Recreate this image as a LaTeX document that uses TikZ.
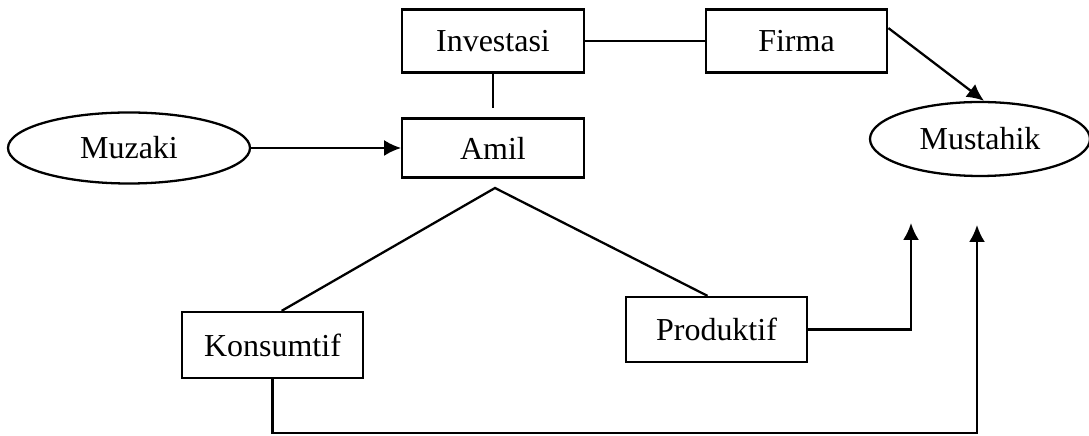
\documentclass[tikz,border=0pt]{standalone}
\usepackage{fontspec}
\setmainfont{Liberation Serif}
\usetikzlibrary{arrows.meta,shapes.geometric}
\begin{document}
\begin{tikzpicture}[>={Latex[length=0.34cm,width=0.32cm]}, line width=1.3pt,
  box/.style={draw, rectangle, minimum width=3.63cm, minimum height=1.26cm, inner sep=0pt},
  oval/.style={draw, ellipse, inner sep=0pt},
  font=\fontsize{18.2}{22}\selectfont]
\useasboundingbox (0,0) rectangle (21.78,8.72);

\node[box] (inv) at (9.86,7.90) {Investasi};
\node[box] (firma) at (15.93,7.90) {Firma};
\node[box, minimum height=1.18cm] (amil) at (9.86,5.76) {Amil};
\node[oval, minimum width=4.84cm, minimum height=1.42cm] (muzaki) at (2.58,5.76) {Muzaki};
\node[oval, minimum width=4.4cm, minimum height=1.48cm] (mustahik) at (19.6,5.94) {Mustahik};
\node[box, minimum height=1.32cm] (kons) at (5.45,1.82) {Konsumtif};
\node[box, minimum height=1.30cm] (prod) at (14.33,2.13) {Produktif};

\coordinate (gap) at (9.86,6.56);
\coordinate (apex) at (9.9,4.96);
\coordinate (tipP) at (18.22,4.26);
\coordinate (tipK) at (19.54,4.22);

\draw (inv) -- (firma);
\draw (inv.south) -- (gap);
\draw[->] (muzaki) -- (amil);
\draw[->] (firma.8) -- (mustahik.84);

\draw (kons.75) -- (apex) -- (prod.105);

\draw[->] (prod.east) -| (tipP);
\draw[->] (kons.south) |- (19.54,0.06) -- (tipK);
\end{tikzpicture}
\end{document}
